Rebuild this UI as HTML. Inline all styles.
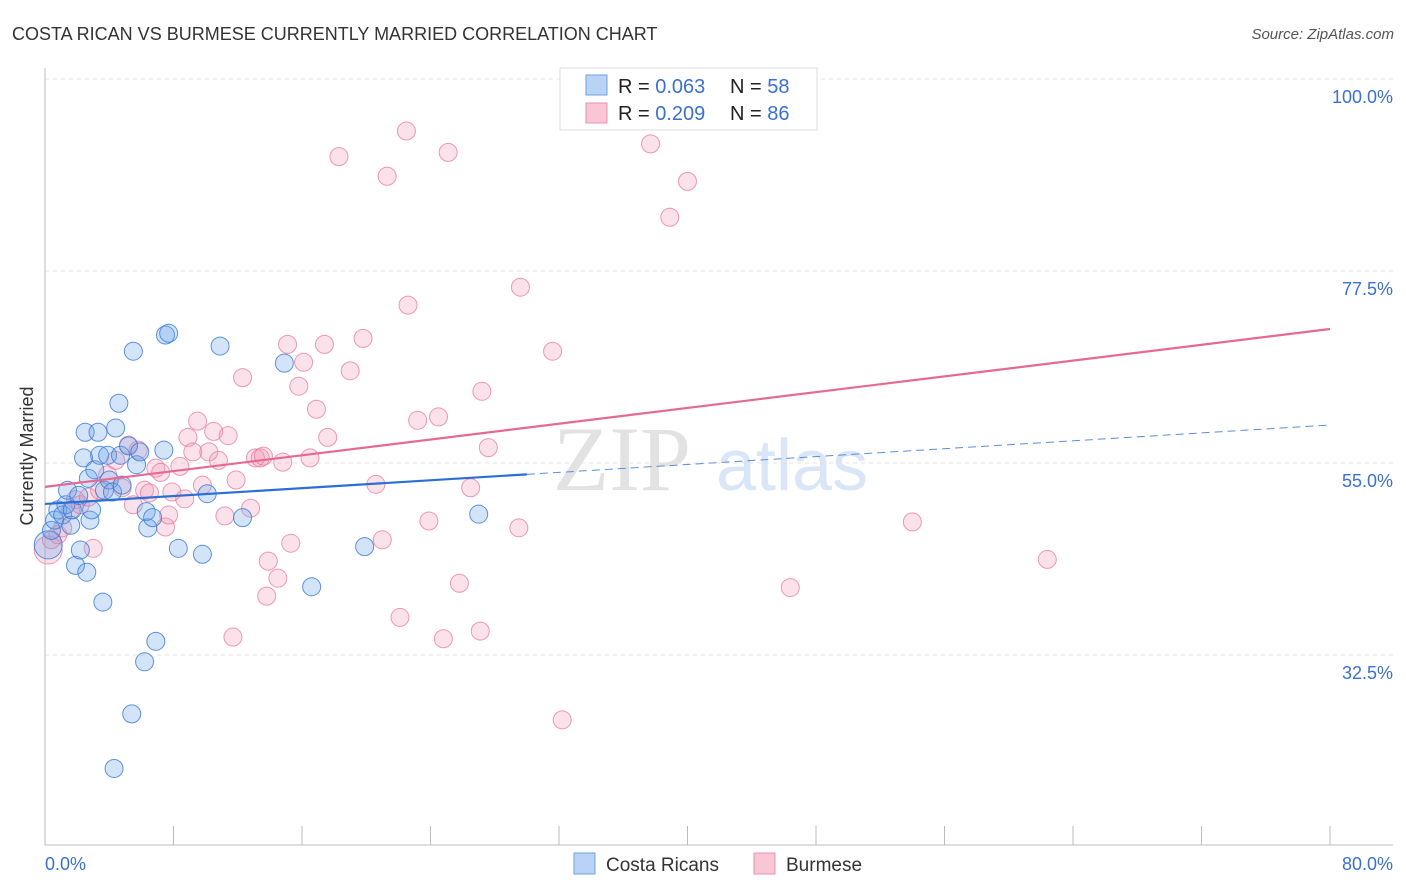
<!DOCTYPE html>
<html><head><meta charset="utf-8">
<style>
body{margin:0;background:#fff;font-family:"Liberation Sans",sans-serif;}
#wrap{position:relative;width:1406px;height:892px;overflow:hidden;}
</style></head>
<body>
<div id="wrap">
<svg id="svg" width="1406" height="892" xmlns="http://www.w3.org/2000/svg">
<text x="12" y="40" font-size="18" fill="#333">COSTA RICAN VS BURMESE CURRENTLY MARRIED CORRELATION CHART</text>
<text x="1394" y="39" font-size="15" fill="#555" text-anchor="end" font-style="italic">Source: ZipAtlas.com</text>
<text x="33" y="456" font-size="18" fill="#333" text-anchor="middle" transform="rotate(-90 33 456)">Currently Married</text>
<g>
<text x="553" y="490" font-size="92" fill="#e2e2e2" font-family="Liberation Serif,serif">ZIP</text>
<text x="716" y="490" font-size="72" fill="#d8e6f7">atlas</text>
</g>
<g id="grid"></g>
<g id="axes"></g>
<g id="marks"></g>
<g id="trends"></g>
<g>
<rect x="560" y="68" width="257" height="62" fill="#fff" stroke="#ddd"/>
<rect x="586" y="75" width="21" height="20" fill="#b8d3f5" stroke="#6fa0e0"/>
<text x="618" y="93" font-size="20" fill="#222">R = <tspan fill="#3b70d0">0.063</tspan></text>
<text x="730" y="93" font-size="20" fill="#222">N = <tspan fill="#3b70d0">58</tspan></text>
<rect x="586" y="103" width="21" height="20" fill="#f8c6d5" stroke="#eb91b0"/>
<text x="618" y="120" font-size="20" fill="#222">R = <tspan fill="#3b70d0">0.209</tspan></text>
<text x="730" y="120" font-size="20" fill="#222">N = <tspan fill="#3b70d0">86</tspan></text>
</g>
<g>
<rect x="574" y="853" width="21" height="21" fill="#b8d3f5" stroke="#6fa0e0"/>
<text x="606" y="871" font-size="19" fill="#333">Costa Ricans</text>
<rect x="754" y="853" width="21" height="21" fill="#f8c6d5" stroke="#eb91b0"/>
<text x="786" y="871" font-size="19" fill="#333">Burmese</text>
</g>
</svg>
</div>
<script>
const yTicks=[100,77.5,55,32.5];
const yTickLabels=["100.0%","77.5%","55.0%","32.5%"];
const xTicks=[0,8,16,24,32,40,48,56,64,72,80];
const xEndLabels=["0.0%","80.0%"];
const blueX=[0.2,0.4,0.6,0.8,1.1,1.3,1.4,1.6,1.7,1.9,2.1,2.2,2.4,2.5,2.6,2.7,2.8,2.9,3.1,3.3,3.4,3.6,3.7,3.9,4.0,4.2,4.3,4.4,4.6,4.7,4.8,5.2,5.4,5.5,5.7,5.9,6.2,6.3,6.4,6.7,6.9,7.4,7.5,7.7,8.3,9.8,10.1,10.9,12.3,14.9,16.6,19.9,27.0];
const blueY=[45.4,47.1,48.3,49.5,48.9,50.1,51.8,47.7,49.5,43.0,51.2,44.8,55.6,58.6,42.2,53.2,48.3,49.5,54.2,58.6,55.9,38.7,51.8,55.9,53.0,51.6,19.2,59.1,62.0,55.9,52.4,57.0,25.6,68.1,54.8,56.3,31.7,49.3,47.4,48.6,34.1,56.5,70.0,70.2,45.0,44.3,51.4,68.7,48.6,66.7,40.5,45.2,49.0];
const pinkX=[0.2,0.4,0.8,1.1,1.6,1.9,2.2,2.7,3.0,3.4,3.9,4.4,4.8,5.2,5.5,5.8,6.2,6.5,6.9,7.2,7.5,7.7,7.9,8.4,8.7,8.9,9.2,9.5,9.8,10.2,10.5,10.8,11.2,11.4,11.7,11.9,12.3,12.8,13.1,13.4,13.6,13.8,13.9,14.5,14.8,15.1,15.3,15.8,16.1,16.5,16.9,17.4,17.6,18.3,19.0,19.8,20.6,21.0,21.3,22.1,22.5,22.6,23.2,23.9,24.5,24.8,25.1,25.8,26.5,27.1,27.2,27.6,29.5,29.6,31.6,32.2,37.7,38.9,40.0,46.4,54.0,62.4];
const pinkY=[44.8,46.0,46.6,47.4,49.5,50.7,50.1,51.0,45.0,51.8,53.6,55.3,52.1,57.1,50.1,56.5,51.8,51.5,54.4,53.9,47.5,48.9,51.6,54.6,50.8,58.0,56.3,59.9,52.4,56.3,58.7,55.3,48.8,58.2,34.6,53.0,65.0,49.7,55.6,55.6,55.8,39.4,43.5,41.5,55.1,68.9,45.6,64.0,66.8,55.6,61.3,68.9,58.0,90.9,65.8,69.6,52.5,46.0,88.6,36.9,93.9,73.5,60.0,48.2,60.4,34.4,91.4,40.9,52.1,35.3,63.4,56.8,47.4,75.6,68.1,24.9,92.4,83.8,88.0,40.4,48.1,43.7];
const blueTrend=[50.2,59.45];
const pinkTrend=[52.2,70.7];
const blueSolidEnd=30;

const NS="http://www.w3.org/2000/svg";
const X0=45,X1=1330,Y100=79,PXPER=8.533;
function sx(v){return X0+(v/80)*(X1-X0);}
function sy(v){return Y100+(100-v)*PXPER;}
function mk(tag,attrs,parent){const e=document.createElementNS(NS,tag);for(const k in attrs)e.setAttribute(k,attrs[k]);parent.appendChild(e);return e;}
const grid=document.getElementById('grid'),axes=document.getElementById('axes'),marks=document.getElementById('marks'),trends=document.getElementById('trends');
yTicks.forEach((t,i)=>{
 const l=mk('line',{x1:X0,x2:1393,y1:sy(t),y2:sy(t),stroke:'#e3e3e3','stroke-dasharray':'4,4'},grid);
 
 
 const tx=mk('text',{x:1393,y:sy(t)+24,'font-size':18,fill:'#3b70d0','text-anchor':'end'},axes);
 tx.textContent=yTickLabels[i];
 
 
});
const la=mk('line',{x1:X0,x2:X0,y1:68,y2:845,stroke:'#bbb'},axes);


const lb=mk('line',{x1:X0,x2:1393,y1:845,y2:845,stroke:'#bbb'},axes);


xTicks.forEach(t=>{
 const l=mk('line',{x1:sx(t),x2:sx(t),y1:826,y2:845,stroke:'#bbb'},axes);
 
 
});
const xl0=mk('text',{x:X0,y:870,'font-size':18,fill:'#3b70d0'},axes);xl0.textContent=xEndLabels[0];


const xl1=mk('text',{x:1393,y:870,'font-size':18,fill:'#3b70d0','text-anchor':'end'},axes);xl1.textContent=xEndLabels[1];


function pts(xs,ys,fill,stroke,name){
 xs.forEach((x,i)=>{
  const r=i===0?14:9;
  const c=mk('circle',{cx:sx(x),cy:sy(ys[i]),r:r,fill:fill,stroke:stroke,'stroke-width':1},marks);
  
  
 });
}
pts(pinkX,pinkY,'rgba(242,150,180,0.28)','rgba(232,120,155,0.75)','burmese-point');
pts(blueX,blueY,'rgba(110,165,235,0.3)','rgba(55,120,215,0.8)','costa-rican-point');
function ty(tr,x){return tr[0]+(tr[1]-tr[0])*x/80;}
const bs=mk('line',{x1:sx(0),y1:sy(ty(blueTrend,0)),x2:sx(blueSolidEnd),y2:sy(ty(blueTrend,blueSolidEnd)),stroke:'#2a6fd6','stroke-width':2.2},trends);


const bd=mk('line',{x1:sx(blueSolidEnd),y1:sy(ty(blueTrend,blueSolidEnd)),x2:sx(80),y2:sy(ty(blueTrend,80)),stroke:'#5a8fd8','stroke-width':1,'stroke-dasharray':'8,5'},trends);


const ps=mk('line',{x1:sx(0),y1:sy(ty(pinkTrend,0)),x2:sx(80),y2:sy(ty(pinkTrend,80)),stroke:'#e46a95','stroke-width':2.2},trends);


</script>
</body></html>
